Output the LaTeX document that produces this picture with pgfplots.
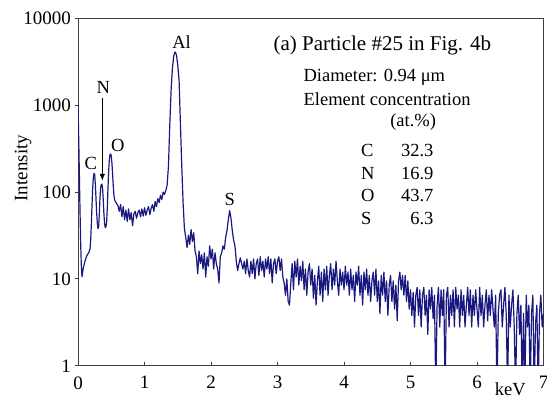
\documentclass[border=0pt]{standalone}
\usepackage{fontspec}
\setmainfont{Liberation Serif}
\usepackage{pgfplots}
\pgfplotsset{compat=1.18}
\usetikzlibrary{calc,arrows.meta}
\definecolor{spec}{RGB}{24,24,128}
\begin{document}
\begin{tikzpicture}
\begin{axis}[
  name=ax,
  scale only axis,
  width=465.3pt, height=347.4pt,
  xmin=0, xmax=7,
  ymode=log, ymin=1, ymax=10000,
  xtick={0,1,2,3,4,5,6,7},
  ytick={1,10,100,1000,10000},
  yticklabels={1,10,100,1000,10000},
  yminorticks=false,
  xtick pos=bottom, ytick pos=left,
  xtick align=inside, ytick align=outside,
  major tick length=3.5pt,
  tick style={black!75, line width=0.9pt},
  axis line style={black!75, line width=1pt},
  /pgf/number format/assume math mode=true,
  tick label style={font=\fontsize{19}{22}\selectfont},
  xticklabel style={yshift=-7pt},
  ylabel={Intensity},
  ylabel style={font=\fontsize{19}{22}\selectfont, at={(axis description cs:-0.118,0.569)}, anchor=center},
  clip=true,
]
\addplot[spec, line width=1.2pt, line join=round] coordinates {
(0.00,1000) (0.01,420) (0.02,160) (0.03,60) (0.04,25) (0.05,14) (0.06,10.6) (0.07,12) (0.08,13.5)
(0.10,15.5) (0.12,17.5) (0.14,19) (0.16,20) (0.18,22) (0.19,28) (0.20,42) (0.21,70) (0.22,110)
(0.23,145) (0.24,164) (0.25,160) (0.26,125) (0.27,85) (0.28,58) (0.29,44) (0.30,38) (0.31,40)
(0.32,55) (0.33,85) (0.34,112) (0.35,122) (0.36,123) (0.37,108) (0.38,80) (0.39,55) (0.40,43)
(0.41,39) (0.42,40) (0.43,45) (0.44,65) (0.45,110) (0.46,170) (0.47,230) (0.48,268) (0.49,274)
(0.50,262) (0.51,215) (0.52,160) (0.53,118) (0.54,92) (0.55,82) (0.56,78) (0.58,74)
(0.60,70) (0.62,60) (0.64,72) (0.66,52) (0.68,68) (0.70,48) (0.72,62) (0.74,46) (0.76,64)
(0.78,48) (0.80,58) (0.82,41) (0.84,56) (0.86,60) (0.88,50) (0.90,58) (0.92,62) (0.94,52)
(0.96,64) (0.98,53) (1.00,66) (1.02,54) (1.04,62) (1.06,68) (1.08,55) (1.10,65) (1.12,72)
(1.14,60) (1.16,78) (1.18,68) (1.20,84) (1.22,76) (1.24,92) (1.26,82) (1.28,100) (1.30,94)
(1.32,104) (1.34,120) (1.36,200) (1.38,600) (1.40,1500) (1.42,2700) (1.44,3700) (1.46,4100)
(1.48,3800) (1.50,2900) (1.52,1900) (1.54,600) (1.56,200) (1.58,75) (1.60,38)
(1.62,30) (1.64,23) (1.66,32) (1.68,25) (1.70,37) (1.72,27) (1.74,34) (1.76,21) (1.78,18)
(1.80,11.5) (1.82,21) (1.84,15) (1.86,19) (1.88,13) (1.90,20) (1.92,10.5) (1.94,18) (1.96,14)
(1.98,24) (2.00,17) (2.02,22) (2.04,13) (2.06,20) (2.08,15) (2.10,13) (2.12,9) (2.14,18)
(2.16,20) (2.18,24) (2.20,22) (2.22,30) (2.24,36) (2.26,48) (2.28,61) (2.30,50) (2.32,36)
(2.34,28) (2.36,24) (2.38,16) (2.40,12.5) (2.42,15) (2.44,17.5) (2.46,15) (2.48,13) (2.50,16)
(2.52,11.5) (2.54,17) (2.56,12.5) (2.58,10.5) (2.60,16) (2.62,11.5) (2.64,17) (2.66,10) (2.68,15)
(2.70,17) (2.72,11) (2.74,18) (2.76,12.5) (2.78,16) (2.80,10.5) (2.82,17) (2.84,13) (2.86,18)
(2.88,11.5) (2.90,17) (2.92,9) (2.94,15) (2.96,17) (2.98,11.5) (3.00,16) (3.02,18) (3.04,12.5)
(3.06,17) (3.08,10.5) (3.10,9) (3.12,6.5) (3.14,10) (3.16,5.5) (3.18,5) (3.20,9) (3.22,15) (3.24,7.5)
(3.26,16) (3.28,10.5) (3.30,17) (3.32,8.5) (3.34,14) (3.36,9.5) (3.38,16) (3.40,7.5) (3.42,13)
(3.44,6.5) (3.46,12) (3.48,15) (3.50,8.5) (3.52,13) (3.54,6) (3.56,11) (3.58,5) (3.60,9.5)
(3.62,14) (3.64,6.5) (3.66,12) (3.68,5.5) (3.70,13) (3.72,7.5) (3.74,14) (3.76,6.5) (3.78,11)
(3.80,15) (3.82,7.5) (3.84,13) (3.86,8.5) (3.88,16) (3.90,9.5) (3.92,6.5) (3.94,13) (3.96,8.5)
(3.98,12) (4.00,7.5) (4.02,14) (4.04,8.5) (4.06,12) (4.08,6.5) (4.10,13) (4.12,7.5) (4.14,11)
(4.16,5.5) (4.18,12) (4.20,8.5) (4.22,14) (4.24,6.5) (4.26,11) (4.28,5) (4.30,12) (4.32,7.5)
(4.34,13) (4.36,6.5) (4.38,11) (4.40,5.5) (4.42,9.5) (4.44,12) (4.46,6.5) (4.48,13) (4.50,5.5)
(4.52,9.5) (4.54,4) (4.56,11) (4.58,6.5) (4.60,12) (4.62,5.5) (4.64,9.5) (4.66,3.8) (4.68,8.5)
(4.70,11) (4.72,5.5) (4.74,9.5) (4.76,4.5) (4.78,8.5) (4.80,3.3) (4.82,9.5) (4.84,12) (4.86,7.5)
(4.88,11) (4.90,6.5) (4.92,11) (4.94,5.5) (4.96,9.5) (4.98,4.5) (5.00,7.5) (5.02,3.8) (5.04,7)
(5.06,2.8) (5.08,6.5) (5.10,8) (5.12,3.8) (5.14,7.5) (5.16,2.8) (5.18,6.5) (5.20,8) (5.22,3.8)
(5.24,6.5) (5.26,2.3) (5.28,7.5) (5.30,4.5) (5.32,8) (5.34,3.5) (5.36,6.5) (5.38,0.5) (5.40,5)
(5.42,8) (5.44,2.8) (5.46,7.5) (5.48,3.8) (5.50,7.5) (5.52,0.5) (5.54,6.5) (5.56,8) (5.58,2.8)
(5.60,6.5) (5.62,3.8) (5.64,7.5) (5.66,2.8) (5.68,8) (5.70,4.5) (5.72,6.5) (5.74,2.8) (5.76,7.5) (5.78,3.8)
(5.80,6.5) (5.82,2.8) (5.84,5) (5.86,8) (5.88,3.8) (5.90,7.5) (5.92,2.8) (5.94,6.5) (5.96,3.8) (5.98,7.5)
(6.00,4.5) (6.02,2.8) (6.04,8) (6.06,3.8) (6.08,6.5) (6.10,2.8) (6.12,5) (6.14,7.5) (6.16,3.3) (6.18,6.5)
(6.20,3.8) (6.22,7.5) (6.24,4.5) (6.26,2.8) (6.28,6.5) (6.30,0.5) (6.32,4) (6.34,6.5) (6.36,7.5) (6.38,2.8)
(6.40,5) (6.42,8) (6.44,3.8) (6.46,0.5) (6.48,6.5) (6.50,2.8) (6.52,5) (6.54,7.5) (6.56,2.8)
(6.58,0.5) (6.60,4) (6.62,6.5) (6.64,2.3) (6.66,5) (6.68,0.5) (6.70,4) (6.72,0.5) (6.74,6.5)
(6.76,2.8) (6.78,5) (6.80,0.5) (6.82,4) (6.84,6.5) (6.86,0.5) (6.88,3) (6.90,5) (6.92,0.5)
(6.94,4) (6.96,6.5) (6.98,2.8) (7.00,4)
};
% peak labels
\node[anchor=base, font=\fontsize{18.5}{21}\selectfont] at (axis description cs:0.2224,0.9145) {Al};
\node[anchor=base, font=\fontsize{18.5}{21}\selectfont] at (axis description cs:0.0544,0.785) {N};
\node[anchor=base, font=\fontsize{18.5}{21}\selectfont] at (axis description cs:0.0275,0.5662) {C};
\node[anchor=base, font=\fontsize{18.5}{21}\selectfont] at (axis description cs:0.0855,0.6169) {O};
\node[anchor=base, font=\fontsize{18.5}{21}\selectfont] at (axis description cs:0.3262,0.4606) {S};
\draw[black, line width=0.9pt, -{Latex[length=7pt,width=5.5pt]}] (axis description cs:0.0522,0.7714) -- (axis description cs:0.0522,0.5325);
% text block
\node[anchor=base west, inner sep=0pt, font=\fontsize{21}{24}\selectfont] at (axis description cs:0.4197,0.9076) {(a) Particle \#25 in Fig. 4b};
\node[anchor=base west, inner sep=0pt, font=\fontsize{18.5}{21}\selectfont] at (axis description cs:0.4842,0.8184) {Diameter: 0.94 μm};
\node[anchor=base west, inner sep=0pt, font=\fontsize{18.5}{21}\selectfont] at (axis description cs:0.4842,0.7484) {Element concentration};
\node[anchor=base west, inner sep=0pt, font=\fontsize{18.5}{21}\selectfont] at (axis description cs:0.6705,0.6888) {(at.\%)};
\node[anchor=base west, inner sep=0pt, font=\fontsize{18.5}{21}\selectfont] at (axis description cs:0.608,0.6025) {C};
\node[anchor=base west, inner sep=0pt, font=\fontsize{18.5}{21}\selectfont] at (axis description cs:0.608,0.5374) {N};
\node[anchor=base west, inner sep=0pt, font=\fontsize{18.5}{21}\selectfont] at (axis description cs:0.608,0.4721) {O};
\node[anchor=base west, inner sep=0pt, font=\fontsize{18.5}{21}\selectfont] at (axis description cs:0.608,0.4059) {S};
\node[anchor=base east, inner sep=0pt, font=\fontsize{18.5}{21}\selectfont] at (axis description cs:0.764,0.6025) {32.3};
\node[anchor=base east, inner sep=0pt, font=\fontsize{18.5}{21}\selectfont] at (axis description cs:0.764,0.5374) {16.9};
\node[anchor=base east, inner sep=0pt, font=\fontsize{18.5}{21}\selectfont] at (axis description cs:0.764,0.4721) {43.7};
\node[anchor=base east, inner sep=0pt, font=\fontsize{18.5}{21}\selectfont] at (axis description cs:0.764,0.4059) {6.3};
\end{axis}
\node[anchor=base, inner sep=0pt, font=\fontsize{18.5}{21}\selectfont] at ($(ax.south west)+(432pt,-30pt)$) {keV};
\pgfresetboundingbox
\useasboundingbox ($(ax.south west)+(-78pt,-33.7pt)$) rectangle ($(ax.north east)+(3.5pt,18.3pt)$);
\end{tikzpicture}
\end{document}
